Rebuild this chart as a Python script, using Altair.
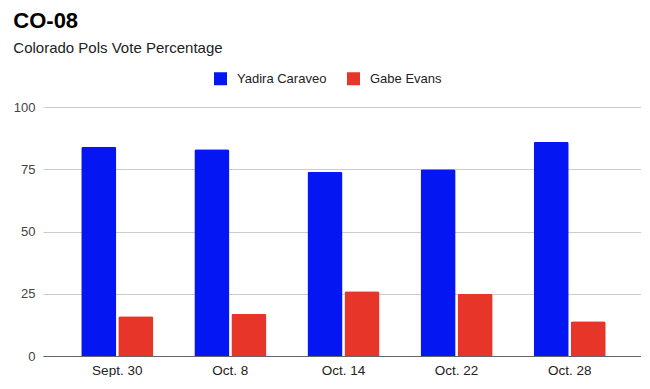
import altair as alt
import pandas as pd

dates = ["Sept. 30", "Oct. 8", "Oct. 14", "Oct. 22", "Oct. 28"]
caraveo = [84, 83, 74, 75, 86]
evans = [16, 17, 26, 25, 14]
candidates = ["Yadira Caraveo", "Gabe Evans"]
colors = ["#0417f2", "#e8352a"]

rows = []
for i, d in enumerate(dates):
    rows.append({"date": d, "candidate": candidates[0], "pct": caraveo[i]})
    rows.append({"date": d, "candidate": candidates[1], "pct": evans[i]})
df = pd.DataFrame(rows)

FONT = "Liberation Sans, Arial, sans-serif"

chart = alt.Chart(df).mark_bar(
    cornerRadiusTopLeft=2, cornerRadiusTopRight=2
).encode(
    x=alt.X("date:N", sort=dates, title=None,
            scale=alt.Scale(paddingInner=0.363, paddingOuter=0.325, align=0.52),
            axis=alt.Axis(labelAngle=0, ticks=False, domainColor="#666666",
                          labelFontSize=13.5, labelColor="#222222", labelPadding=7,
                          labelFont=FONT)),
    xOffset=alt.XOffset("candidate:N", sort=candidates,
                        scale=alt.Scale(paddingInner=0.054)),
    y=alt.Y("pct:Q", title=None,
            scale=alt.Scale(domain=[0, 100], nice=False),
            axis=alt.Axis(values=[0, 25, 50, 75, 100], domain=False, ticks=False,
                          gridColor="#cccccc", labelFontSize=13, labelColor="#444444",
                          labelPadding=8, labelFont=FONT)),
    color=alt.Color("candidate:N", sort=candidates,
                    scale=alt.Scale(domain=candidates, range=colors),
                    legend=alt.Legend(title=None, orient="none", direction="horizontal",
                                      legendX=171, legendY=-35,
                                      symbolType="square", symbolSize=169,
                                      symbolStrokeWidth=0, labelFontSize=13,
                                      labelColor="#222222", labelOffset=10,
                                      columnPadding=20, labelFont=FONT)),
).properties(
    width=598,
    height=249,
    padding={"left": 5, "top": 2, "right": 0, "bottom": 0},
    title=alt.Title(
        "CO-08",
        subtitle="Colorado Pols Vote Percentage",
        anchor="start",
        frame="bounds",
        font=FONT,
        fontSize=22,
        fontWeight="bold",
        color="#000000",
        subtitleFont=FONT,
        subtitleFontSize=15,
        subtitleColor="#222222",
        subtitlePadding=8,
        offset=15,
    ),
).configure_view(stroke=None)

chart.save("out.html", embed_options={"renderer": "svg", "actions": False})
